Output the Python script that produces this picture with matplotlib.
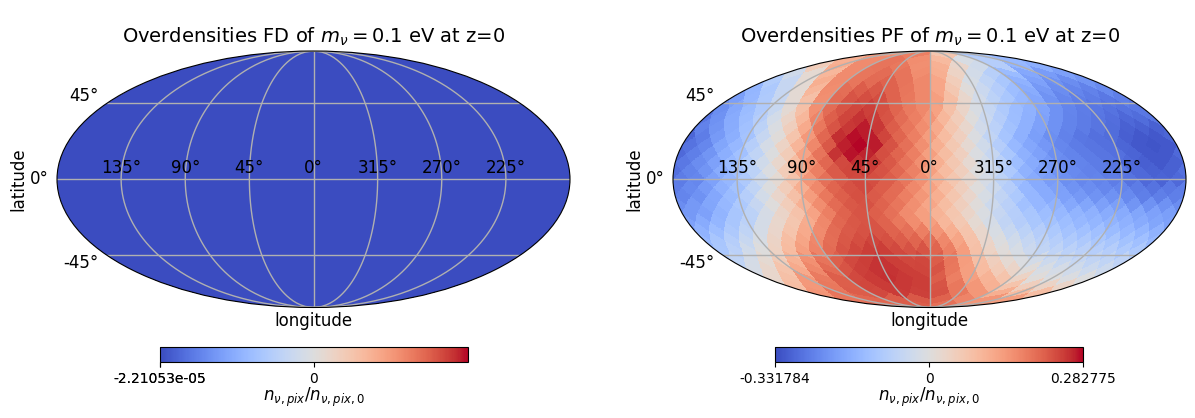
import numpy as np
import matplotlib
matplotlib.use("Agg")
import matplotlib.pyplot as plt
from matplotlib.colors import TwoSlopeNorm
from matplotlib.transforms import Affine2D

NSIDE = 8
FD_LEVEL = -2.21053e-05
FD_VMIN, FD_VMAX = -2.21053e-05, 2.21053e-05
PF_VMIN, PF_VMAX = -0.331784, 0.282775

TITLE_FD = r"Overdensities FD of $m_\nu = 0.1$ eV at z=0"
TITLE_PF = r"Overdensities PF of $m_\nu = 0.1$ eV at z=0"
LON_LABELS = ["135°", "90°", "45°", "0°", "315°", "270°", "225°"]
CBAR_LABEL = r"$n_{\nu,pix}/n_{\nu,pix,0}$"
CMAP = "coolwarm"

# PF map, HEALPix rings from north to south, each read from left to right on the
# map. Values are percent of the colour scale (of |vmin| below 0, of vmax above 0).
pf_north_cap = [
    [50, 62, 24, -33],
    [38, 57, 67, 56, 32, -4, -27, -43],
    [18, 40, 57, 67, 65, 55, 37, 10, -10, -27, -46, -50],
    [-10, 6, 34, 57, 66, 70, 67, 56, 39, 13, -8, -25, -42, -54, -61, -59],
    [-28, -16, 6, 39, 57, 66, 71, 74, 67, 58, 43, 18, -5, -20, -33, -48, -58, -67, -69, -65],
    [-46, -32, -16, 5, 34, 56, 69, 76, 78, 74, 66, 58, 43, 23, 2, -14, -27, -40, -52, -63, -69, -73, -75, -71],
    [-60, -45, -30, -16, 5, 28, 55, 71, 79, 82, 82, 74, 65, 58, 47, 29, 9, -9, -22, -33, -44, -55, -66, -72, -76, -78, -79, -76],
]
pf_equatorial = [
    [-68, -54, -42, -30, -15, 5, 28, 54, 70, 79, 84, 86, 81, 73, 64, 58, 46, 28, 11, -4, -17, -30, -41, -48, -57, -67, -73, -77, -80, -82, -82, -79],
    [-80, -67, -53, -40, -27, -8, 11, 34, 60, 75, 85, 90, 88, 79, 70, 62, 52, 34, 18, 1, -14, -27, -40, -49, -58, -67, -74, -78, -81, -84, -87, -85],
    [-75, -65, -52, -38, -22, -3, 17, 41, 65, 79, 89, 96, 89, 76, 66, 56, 41, 24, 9, -9, -23, -37, -49, -58, -67, -74, -78, -81, -85, -90, -90, -90],
    [-88, -77, -62, -50, -36, -16, 2, 25, 50, 72, 92, 98, 96, 85, 73, 62, 48, 31, 16, -2, -19, -35, -49, -60, -68, -75, -80, -83, -85, -91, -94, -94],
    [-82, -72, -56, -44, -26, -7, 13, 35, 58, 78, 95, 100, 96, 80, 68, 55, 39, 22, 7, -10, -27, -43, -55, -64, -72, -78, -81, -83, -88, -94, -96, -94],
    [-86, -76, -65, -50, -38, -20, -1, 19, 45, 67, 90, 97, 94, 82, 73, 62, 47, 30, 16, -2, -16, -33, -49, -58, -68, -74, -78, -81, -83, -89, -94, -94],
    [-79, -69, -58, -43, -28, -10, 9, 30, 55, 72, 83, 91, 88, 78, 67, 55, 39, 23, 7, -8, -23, -40, -53, -63, -70, -74, -78, -81, -86, -91, -94, -90],
    [-83, -74, -65, -52, -39, -22, -2, 19, 41, 62, 77, 84, 86, 80, 72, 61, 47, 31, 17, 0, -14, -31, -48, -58, -66, -71, -75, -78, -80, -86, -90, -90],
    [-78, -72, -58, -45, -31, -12, 6, 26, 52, 68, 77, 83, 82, 76, 66, 54, 39, 24, 9, -6, -22, -39, -53, -61, -68, -72, -74, -77, -82, -86, -89, -86],
    [-77, -71, -62, -49, -37, -20, -1, 18, 39, 58, 73, 80, 83, 76, 70, 58, 46, 31, 17, 1, -12, -27, -44, -53, -59, -66, -69, -72, -73, -78, -82, -79],
    [-73, -67, -55, -42, -26, -8, 10, 28, 48, 65, 75, 81, 77, 71, 62, 51, 39, 24, 10, -5, -19, -32, -45, -53, -58, -63, -66, -67, -71, -76, -76, -76],
    [-69, -63, -56, -44, -32, -16, 1, 18, 37, 56, 71, 78, 80, 74, 66, 55, 43, 30, 17, 2, -12, -24, -38, -45, -48, -54, -56, -59, -60, -65, -67, -67],
    [-63, -58, -47, -34, -22, -6, 11, 26, 45, 62, 74, 79, 75, 68, 57, 47, 36, 24, 11, -3, -16, -26, -34, -40, -44, -47, -49, -52, -53, -56, -58, -60],
    [-58, -53, -46, -34, -23, -7, 9, 24, 40, 58, 72, 78, 79, 74, 65, 56, 47, 34, 22, 6, -7, -19, -27, -33, -37, -40, -44, -46, -47, -49, -53, -56],
    [-48, -40, -31, -20, -7, 10, 25, 41, 57, 70, 77, 80, 79, 74, 68, 62, 52, 39, 25, 9, -4, -15, -22, -27, -32, -36, -38, -39, -42, -44, -46, -48],
    [-43, -34, -26, -15, -4, 12, 29, 44, 58, 69, 78, 82, 85, 81, 76, 73, 69, 58, 44, 26, 10, -1, -10, -17, -23, -26, -30, -31, -33, -34, -37, -39],
    [-33, -23, -10, 0, 14, 31, 47, 60, 71, 79, 84, 87, 87, 83, 80, 79, 73, 62, 48, 28, 13, 2, -5, -13, -19, -21, -23, -24, -26, -27, -30, -31],
]
pf_south_cap = [
    [-20, -7, 6, 19, 36, 54, 67, 75, 83, 87, 90, 87, 84, 84, 76, 66, 48, 29, 17, 6, -2, -8, -12, -15, -17, -19, -20, -21],
    [-6, 9, 25, 41, 58, 71, 79, 86, 90, 90, 87, 85, 79, 65, 47, 31, 20, 11, 2, -4, -7, -10, -12, -12],
    [9, 28, 50, 64, 75, 83, 88, 91, 89, 87, 76, 62, 47, 36, 25, 13, 2, -1, -2, -1],
    [29, 50, 65, 75, 84, 88, 89, 87, 79, 65, 51, 37, 25, 17, 12, 11],
    [52, 67, 76, 83, 88, 86, 80, 65, 51, 39, 31, 29],
    [66, 72, 76, 78, 74, 60, 52, 47],
    [70, 76, 68, 50],
]


def ring_and_position(lon, lat, nside):
    """HEALPix ring (1-based) and position in it; lon counted from the map's left edge."""
    z = np.sin(lat)
    za = np.abs(z)
    tt = np.mod(lon, 2 * np.pi) / (np.pi / 2)
    ring = np.zeros(lon.shape, dtype=int)
    pos = np.zeros(lon.shape, dtype=int)

    eq = za <= 2 / 3
    t1 = nside * (0.5 + tt[eq])
    t2 = nside * z[eq] * 0.75
    jp = np.floor(t1 - t2).astype(int)
    jm = np.floor(t1 + t2).astype(int)
    ir = nside + 1 + jp - jm
    kshift = 1 - (ir & 1)
    ring[eq] = nside + ir - 1
    pos[eq] = ((jp + jm - nside + kshift + 1 + 8 * nside) // 2) % (4 * nside)

    po = ~eq
    tp = tt[po] - np.floor(tt[po])
    tmp = nside * np.sqrt(3 * (1 - za[po]))
    jp = np.floor(tp * tmp).astype(int)
    jm = np.floor((1 - tp) * tmp).astype(int)
    ir = np.clip(jp + jm + 1, 1, nside)
    pos[po] = np.floor(tt[po] * ir).astype(int) % (4 * ir)
    ring[po] = np.where(z[po] > 0, ir, 4 * nside - ir)
    return ring, pos


rings = pf_north_cap + pf_equatorial + pf_south_cap
assert all(len(r) == 4 * min(i + 1, NSIDE, 4 * NSIDE - 1 - i) for i, r in enumerate(rings)), \
    [(i + 1, len(r)) for i, r in enumerate(rings)]

pf_table = np.zeros((4 * NSIDE, 4 * NSIDE))
for i, r in enumerate(rings):
    pct = np.array(r, dtype=float)
    pf_table[i + 1, :len(r)] = np.where(pct > 0, pct / 100 * PF_VMAX, -pct / 100 * PF_VMIN)

lon_edges = np.linspace(-np.pi, np.pi, 1001)
lat_edges = np.linspace(-np.pi / 2, np.pi / 2, 501)
lon_c = 0.5 * (lon_edges[1:] + lon_edges[:-1])
lat_c = 0.5 * (lat_edges[1:] + lat_edges[:-1])
LON, LAT = np.meshgrid(lon_c, lat_c)
ring_idx, pos_idx = ring_and_position(LON + np.pi, LAT, NSIDE)
pf_image = pf_table[ring_idx, pos_idx]
fd_image = np.full(pf_image.shape, FD_LEVEL)

fig = plt.figure(figsize=(11.95, 4.18), dpi=100)
W, H = 1195.0, 418.0


def panel(x0, cbar_x0, image, norm, title, ticks, ticklabels):
    ax = fig.add_axes([x0 / W, (H - 307.5) / H, 513 / W, 256.5 / H], projection="mollweide")
    mesh = ax.pcolormesh(lon_edges, lat_edges, image, cmap=CMAP, norm=norm,
                         shading="flat", antialiased=False, linewidth=0)
    ax.set_longitude_grid(45)
    ax.set_latitude_grid(45)
    ax.set_longitude_grid_ends(90)
    ax.set_xticklabels(LON_LABELS)
    ax.tick_params(labelsize=12)
    for lab in ax.xaxis.get_majorticklabels():
        lab.set_transform(lab.get_transform() + Affine2D().translate(0, -2))
    ax.grid(True, color="#b0b0b0", linewidth=1.0)
    ax.set_title(title, fontsize=14, pad=6)
    ax.set_xlabel("longitude", fontsize=12, labelpad=3)
    ax.set_ylabel("latitude", fontsize=12, labelpad=2)
    cax = fig.add_axes([cbar_x0 / W, (H - 362) / H, 308 / W, 15 / H])
    cb = fig.colorbar(mesh, cax=cax, orientation="horizontal")
    cb.set_ticks(ticks)
    cb.set_ticklabels(ticklabels)
    cb.minorticks_off()
    cb.ax.tick_params(labelsize=10)
    cb.set_label(CBAR_LABEL, fontsize=12, labelpad=0)
    return ax


panel(57, 160, fd_image, TwoSlopeNorm(vmin=FD_VMIN, vcenter=0, vmax=FD_VMAX), TITLE_FD,
      [FD_VMIN, FD_VMIN, 0], ["-2.21053e-05", "-2.21053e-05", "0"])
panel(673, 775, pf_image, TwoSlopeNorm(vmin=PF_VMIN, vcenter=0, vmax=PF_VMAX), TITLE_PF,
      [PF_VMIN, 0, PF_VMAX], ["-0.331784", "0", "0.282775"])

fig.savefig("out.png", dpi=100)
